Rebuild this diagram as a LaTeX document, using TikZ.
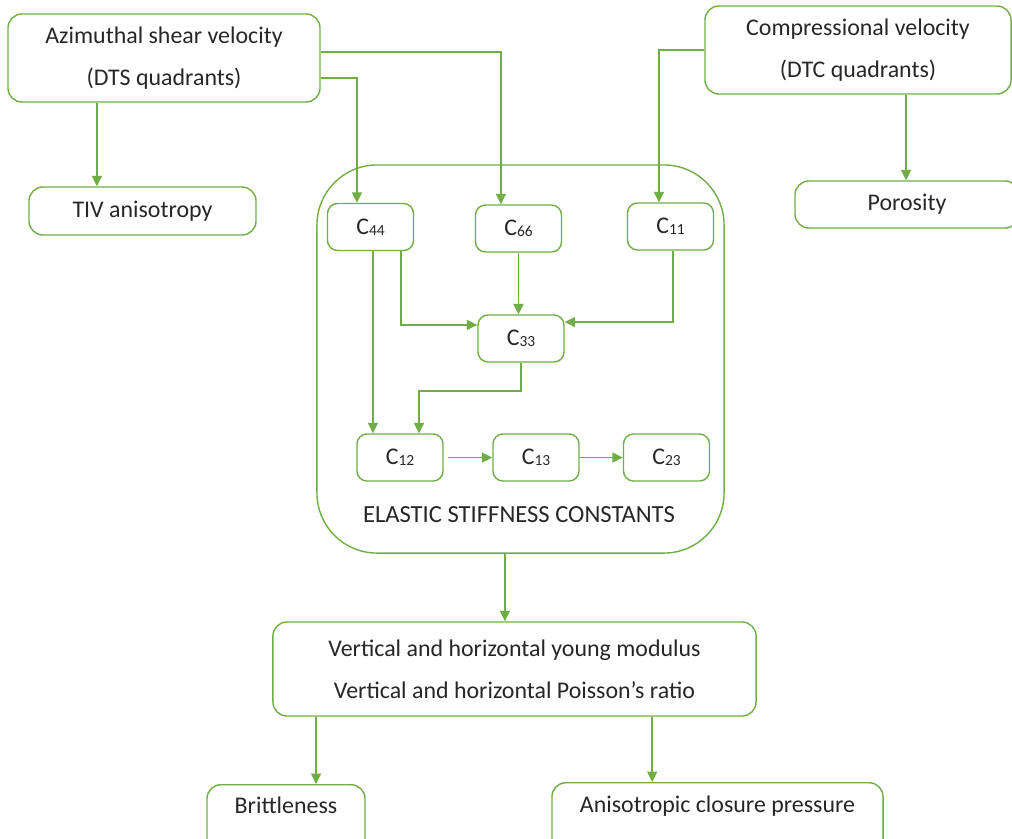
\documentclass[tikz,border=0pt]{standalone}
\usepackage{fontspec}
\setmainfont{Carlito}
\usetikzlibrary{arrows.meta}
\definecolor{offgreen}{HTML}{70AD47}
\newcommand{\Csub}[1]{C\raisebox{-0.1ex}{\fontsize{11}{11}\selectfont #1}}

\begin{document}
\begin{tikzpicture}[
    x=0.025cm, y=-0.025cm,
    every node/.style={font=\fontsize{17}{30}\selectfont, text=black!85},
    box/.style={draw=offgreen, line width=1pt, rounded corners=0.35cm, align=center, inner sep=0pt},
    cbox/.style={box, rounded corners=0.25cm, minimum width=2.15cm, minimum height=1.175cm},
    arr/.style={draw=offgreen, line width=1pt, -{Triangle[length=0.26cm, width=0.25cm]}},
]

\useasboundingbox (0,0) rectangle (1012,838);
\clip (0,0) rectangle (1012,838);

% Input velocities
\node[box, minimum width=7.8cm, minimum height=2.2cm] (azi) at (164, 58) {Azimuthal shear velocity\\(DTS quadrants)};
\node[box, minimum width=7.65cm, minimum height=2.2cm] (comp) at (858, 50) {Compressional velocity\\(DTC quadrants)};

% Side outputs
\node[box, minimum width=5.675cm, minimum height=1.2cm] (tiv) at (142.5, 211) {TIV anisotropy};
\node[box, minimum width=5.6cm, minimum height=1.175cm] (poro) at (907, 204.5) {Porosity};

% Stiffness constants container
\node[box, rounded corners=1.5cm, minimum width=10.175cm, minimum height=9.7cm] (cont) at (520.5, 359) {};
\node[font=\fontsize{17.5}{20}\selectfont] (elastic) at (519, 515) {ELASTIC STIFFNESS CONSTANTS};

\node[cbox] (c44) at (370.5, 227) {\Csub{44}};
\node[cbox] (c66) at (518.5, 228.5) {\Csub{66}};
\node[cbox] (c11) at (670.5, 226.5) {\Csub{11}};
\node[cbox] (c33) at (521, 338.5) {\Csub{33}};
\node[cbox] (c12) at (400, 457.5) {\Csub{12}};
\node[cbox] (c13) at (536, 457.5) {\Csub{13}};
\node[cbox] (c23) at (666.5, 457.5) {\Csub{23}};

% Moduli and final outputs
\node[box, minimum width=12.075cm, minimum height=2.35cm] (young) at (514.5, 669) {Vertical and horizontal young modulus\\Vertical and horizontal Poisson’s ratio};
\node[box, anchor=north, minimum width=3.95cm, text height=0.725cm, text depth=1cm] (brit) at (286, 784) {Brittleness};
\node[box, anchor=north, minimum width=8.275cm, text height=0.75cm, text depth=1cm] (aniso) at (717.5, 782) {Anisotropic closure pressure};

\coordinate (bend) at (419, 391);

% Connectors
\draw[arr] ([xshift=-1.675cm]azi.south) -- ([xshift=-1.675cm]azi.south |- tiv.north);
\draw[arr] ([yshift=0.15cm]azi.east) -| ([xshift=-0.44cm]c66.north);
\draw[arr] ([yshift=-0.5cm]azi.east) -| ([xshift=-0.34cm]c44.north);
\draw[arr] (comp.west) -| ([xshift=-0.29cm]c11.north);
\draw[arr] ([xshift=1.2cm]comp.south) -- ([xshift=1.2cm]comp.south |- poro.north);

\draw[arr] ([xshift=0.06cm]c44.south) -- ([xshift=0.06cm]c44.south |- c12.north);
\draw[arr] ([xshift=0.76cm]c44.south) |- ([yshift=0.34cm]c33.west);
\draw[arr] (c66.south) -- (c66.south |- c33.north);
\draw[arr] ([xshift=0.06cm]c11.south) |- ([yshift=0.41cm]c33.east);
\draw[arr] (c33.south) |- (bend) -- (bend |- c12.north);
\draw[arr] ([xshift=0.1cm]c12.east) -- (c13.west);
\draw[arr] (c13.east) -- (c23.west);

\draw[arr] ([xshift=-0.39cm]cont.south) -- ([xshift=-0.39cm]cont.south |- young.north);
\draw[arr] ([xshift=-4.96cm]young.south) -- ([xshift=-4.96cm]young.south |- brit.north);
\draw[arr] ([xshift=3.44cm]young.south) -- ([xshift=3.44cm]young.south |- aniso.north);

\end{tikzpicture}
\end{document}
